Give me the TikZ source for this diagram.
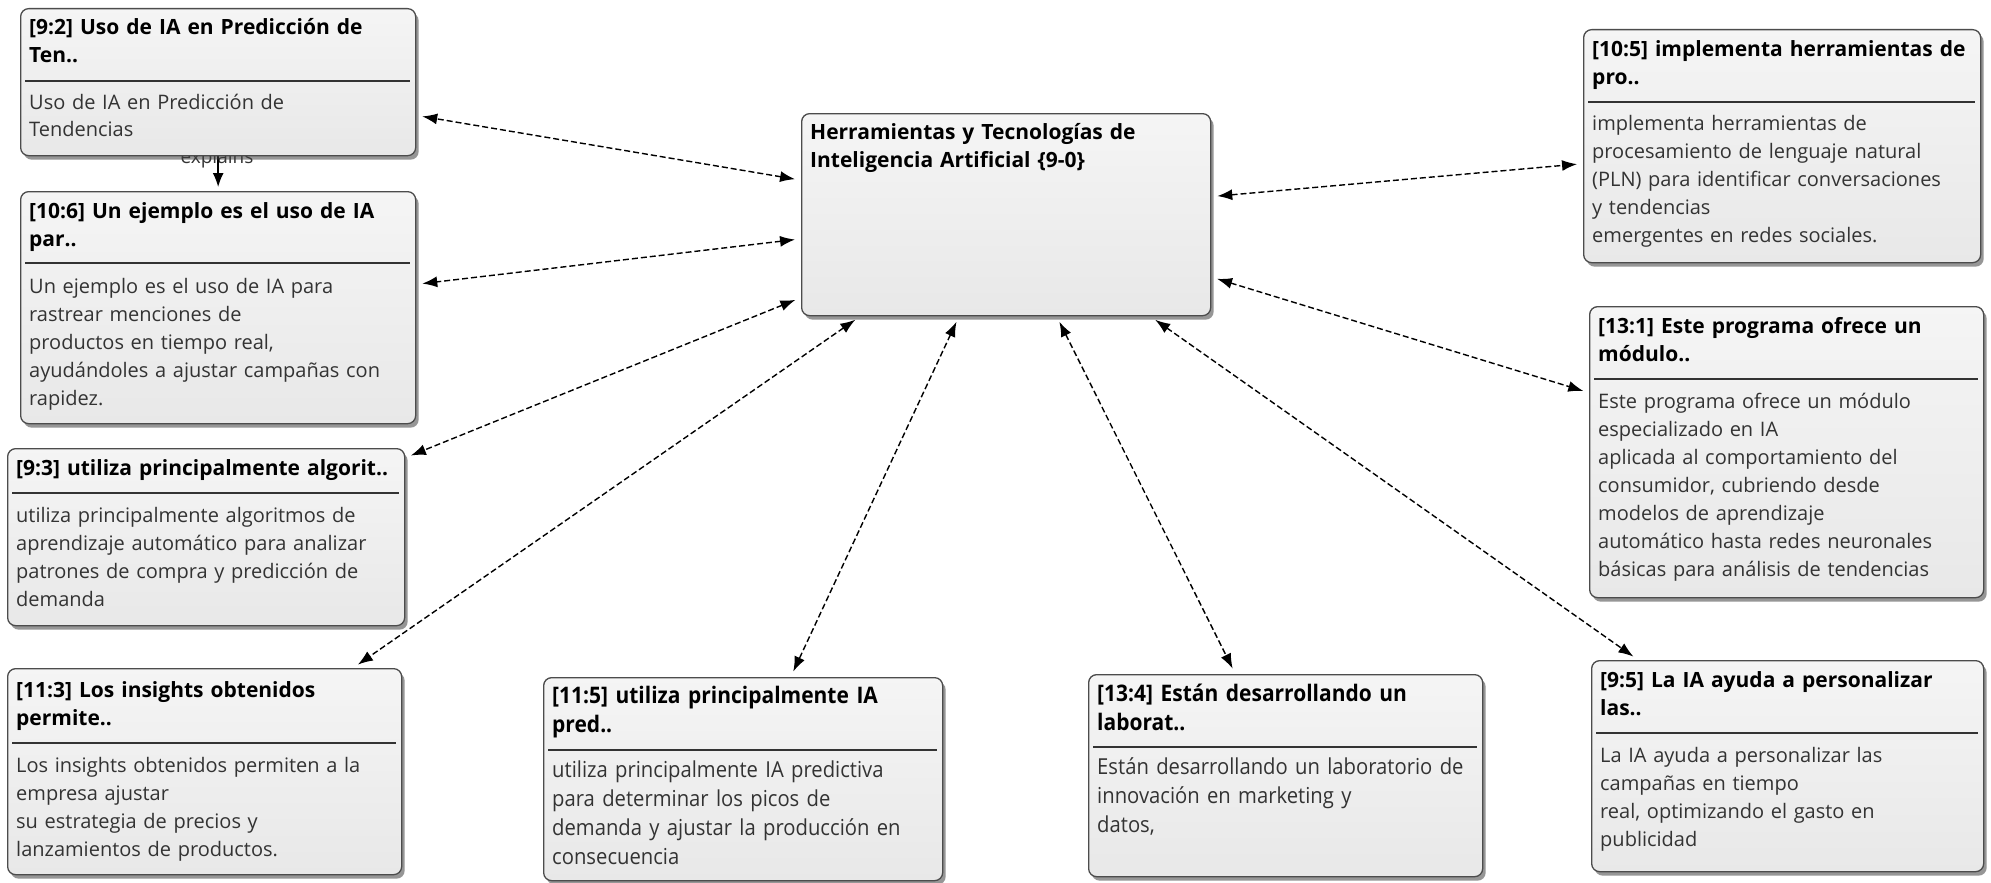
\documentclass[tikz,border=0pt]{standalone}
\usepackage{fontspec}
\setmainfont{Open Sans}
\newfontfamily\condfont[FakeStretch=0.92]{Open Sans}
\usetikzlibrary{arrows.meta,shadows}
\pgfdeclarelayer{back}
\pgfdeclarelayer{bg}
\pgfsetlayers{back,bg,main}
\tikzset{
 box/.style={draw=black!70, line width=1.3pt, rounded corners=8pt, top color=black!4, bottom color=black!9, anchor=north west, inner sep=0pt,
   drop shadow={shadow xshift=3pt, shadow yshift=-4pt, fill=black!75, opacity=0.55}},
 ttl/.style={anchor=base west, inner sep=0pt, text width=600pt, align=left, font=\bfseries\fontsize{21}{28}\selectfont, text=black},
 bdy/.style={anchor=base west, inner sep=0pt, text width=600pt, align=left, font=\fontsize{20}{28}\selectfont, text=black!80},
 ttlc/.style={anchor=base west, inner sep=0pt, text width=600pt, align=left, font=\condfont\bfseries\fontsize{22.8}{29}\selectfont, text=black},
 bdyc/.style={anchor=base west, inner sep=0pt, text width=600pt, align=left, font=\condfont\fontsize{22}{29}\selectfont, text=black!80},
 sepline/.style={draw=black!80, line width=1.5pt},
 link/.style={dash pattern=on 6pt off 3pt, line width=1.4pt, {Latex[length=15pt,width=11pt]}-{Latex[length=15pt,width=11pt]}, shorten >=6pt, shorten <=6pt},
 plainlink/.style={line width=1.4pt, -{Latex[length=14pt,width=11pt]}, shorten >=4pt},
 lbl/.style={inner sep=0pt, font=\fontsize{19}{20}\selectfont, text=black!80},
}
\begin{document}
\begin{tikzpicture}[x=1pt,y=-1pt]
\begin{pgfonlayer}{back}
\fill[white] (0,0) rectangle (1991,883);
\end{pgfonlayer}
\useasboundingbox (0,0) rectangle (1991,883);

% central node
\node[box, minimum width=409pt, minimum height=202pt] (ctr) at (801,113) {};
\node[ttl] (ctr-t) at (810,139) {Herramientas y Tecnologías de\\Inteligencia Artificial \{9-0\}};

% 9:2
\node[box, minimum width=395pt, minimum height=147pt] (n92) at (20,8) {};
\node[ttl] (n92-t) at (29,35) {[9:2] Uso de IA en Predicción de\\Ten..};
\draw[sepline] (25,81) -- (410,81);
\node[bdy] (n92-b) at (29,109) {Uso de IA en Predicción de\\Tendencias};

% 10:6
\node[box, minimum width=395pt, minimum height=232pt] (n106) at (20,191) {};
\node[ttl] (n106-t) at (29,218) {[10:6] Un ejemplo es el uso de IA\\par..};
\draw[sepline] (25,263) -- (410,263);
\node[bdy] (n106-b) at (29,293) {Un ejemplo es el uso de IA para\\rastrear menciones de\\productos en tiempo real,\\ayudándoles a ajustar campañas con\\rapidez.};

% 9:3
\node[box, minimum width=397pt, minimum height=177pt] (n93) at (7,448) {};
\node[ttl] (n93-t) at (16,475) {[9:3] utiliza principalmente algorit..};
\draw[sepline] (12,493) -- (399,493);
\node[bdy] (n93-b) at (16,522) {utiliza principalmente algoritmos de\\aprendizaje automático para analizar\\patrones de compra y predicción de\\demanda};

% 11:3
\node[box, minimum width=394pt, minimum height=206pt] (n113) at (7,668) {};
\node[ttl] (n113-t) at (16,697) {[11:3] Los insights obtenidos\\permite..};
\draw[sepline] (12,743) -- (396,743);
\node[bdy] (n113-b) at (16,772) {Los insights obtenidos permiten a la\\empresa ajustar\\su estrategia de precios y\\lanzamientos de productos.};

% 11:5
\node[box, minimum width=399pt, minimum height=203pt] (n115) at (543,677) {};
\node[ttlc] (n115-t) at (552,703) {[11:5] utiliza principalmente IA\\pred..};
\draw[sepline] (548,750) -- (937,750);
\node[bdyc] (n115-b) at (552,777) {utiliza principalmente IA predictiva\\para determinar los picos de\\demanda y ajustar la producción en\\consecuencia};

% 13:4
\node[box, minimum width=394pt, minimum height=202pt] (n134) at (1088,674) {};
\node[ttlc] (n134-t) at (1097,701) {[13:4] Están desarrollando un\\laborat..};
\draw[sepline] (1093,747) -- (1477,747);
\node[bdyc] (n134-b) at (1097,774) {Están desarrollando un laboratorio de\\innovación en marketing y\\datos,};

% 10:5
\node[box, minimum width=397pt, minimum height=233pt] (n105) at (1583,29) {};
\node[ttl] (n105-t) at (1592,57) {[10:5] implementa herramientas de\\pro..};
\draw[sepline] (1588,102) -- (1975,102);
\node[bdy] (n105-b) at (1592,130) {implementa herramientas de\\procesamiento de lenguaje natural\\(PLN) para identificar conversaciones\\y tendencias\\emergentes en redes sociales.};

% 13:1
\node[box, minimum width=394pt, minimum height=291pt] (n131) at (1589,306) {};
\node[ttl] (n131-t) at (1598,333) {[13:1] Este programa ofrece un\\módulo..};
\draw[sepline] (1594,379) -- (1978,379);
\node[bdy] (n131-b) at (1598,408) {Este programa ofrece un módulo\\especializado en IA\\aplicada al comportamiento del\\consumidor, cubriendo desde\\modelos de aprendizaje\\automático hasta redes neuronales\\básicas para análisis de tendencias};

% 9:5
\node[box, minimum width=392pt, minimum height=211pt] (n95) at (1591,660) {};
\node[ttl] (n95-t) at (1600,687) {[9:5] La IA ayuda a personalizar\\las..};
\draw[sepline] (1596,733) -- (1978,733);
\node[bdy] (n95-b) at (1600,762) {La IA ayuda a personalizar las\\campañas en tiempo\\real, optimizando el gasto en\\publicidad};

\begin{pgfonlayer}{bg}
\node[lbl] (expl) at (217,159) {explains};
\draw[plainlink] (n92) -- (n106);
\draw[link] (ctr) -- (n92);
\draw[link] (ctr) -- (n106);
\draw[link] (ctr) -- (n93);
\draw[link] (ctr) -- (n113);
\draw[link] (ctr) -- (n115);
\draw[link] (ctr) -- (n134);
\draw[link] (ctr) -- (n95);
\draw[link] (ctr) -- (n131);
\draw[link] (ctr) -- (n105);
\end{pgfonlayer}
\end{tikzpicture}
\end{document}
